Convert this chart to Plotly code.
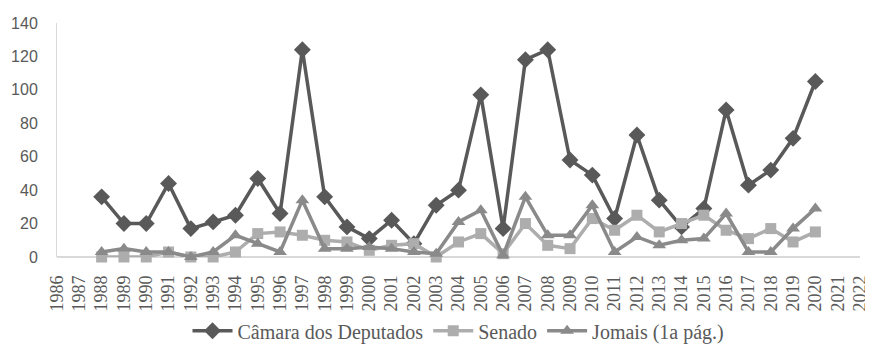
import plotly.graph_objects as go

years = list(range(1988, 2021))
camara = [36, 20, 20, 44, 17, 21, 25, 47, 26, 124, 36, 18, 11, 22, 8, 31, 40, 97, 17, 118,
          124, 58, 49, 23, 73, 34, 18, 29, 88, 43, 52, 71, 105]
senado = [0, 0, 0, 3, 0, 0, 3, 14, 15, 13, 10, 9, 4, 7, 8, 0, 9, 14, 2, 20,
          7, 5, 23, 16, 25, 15, 20, 25, 16, 11, 17, 9, 15]
jornais = [3, 5, 3, 3, 0, 3, 13, 8, 3, 34, 5, 5, 6, 5, 3, 2, 21, 28, 1, 36,
           13, 13, 31, 3, 12, 7, 10, 11, 26, 3, 3, 17, 29]
axis_years = list(range(1986, 2023))
y_ticks = [0, 20, 40, 60, 80, 100, 120, 140]

series_names = ["Câmara dos Deputados", "Senado", "Jomais (1a pág.)"]

fig = go.Figure()
fig.add_trace(go.Scatter(
    x=years, y=camara, name=series_names[0], mode="lines+markers",
    line=dict(color="#595959", width=3.5),
    marker=dict(symbol="diamond", size=13, color="#595959"),
    cliponaxis=False))
fig.add_trace(go.Scatter(
    x=years, y=senado, name=series_names[1], mode="lines+markers",
    line=dict(color="#ADADAD", width=3.5),
    marker=dict(symbol="square", size=11, color="#ADADAD"),
    cliponaxis=False))
fig.add_trace(go.Scatter(
    x=years, y=jornais, name=series_names[2], mode="lines+markers",
    line=dict(color="#8A8A8A", width=3.5),
    marker=dict(symbol="triangle-up", size=12, color="#8A8A8A"),
    cliponaxis=False))

# page body has an 8px default margin, so the figure is sized to fit the window
fig.update_layout(
    width=865, height=339,
    margin=dict(l=49, r=13, t=15, b=90, autoexpand=False),
    plot_bgcolor="white", paper_bgcolor="white",
    showlegend=True,
    legend=dict(orientation="h", x=0.5, xanchor="center", y=-0.315, yanchor="middle",
                bgcolor="rgba(0,0,0,0)",
                font=dict(family="Liberation Serif", size=20, color="#595959"),
                itemwidth=40, traceorder="normal"),
)
fig.update_xaxes(
    range=[1985.999, 2022.001], tickmode="array", tickvals=axis_years,
    ticktext=[str(y) for y in axis_years],
    tickangle=-90, showgrid=False, zeroline=False, automargin=False,
    showline=False, ticks="", ticklabelstandoff=14, ticklabeloverflow="allow",
    tickfont=dict(family="Liberation Serif", size=18, color="#595959"),
)
fig.update_yaxes(
    range=[0, 140], tickmode="array", tickvals=y_ticks, automargin=False,
    showgrid=False, zeroline=True, zerolinecolor="#D9D9D9", zerolinewidth=1.5,
    showline=True, linecolor="#D9D9D9", linewidth=1, ticks="", ticklabelstandoff=15,
    tickfont=dict(family="Liberation Sans", size=16, color="#595959"),
)
fig.write_html("out.html")
